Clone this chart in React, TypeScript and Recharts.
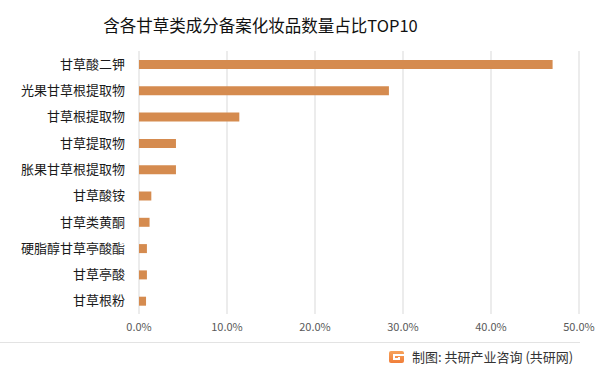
import React from "react";
import { BarChart, Bar, XAxis, YAxis, CartesianGrid } from "recharts";

const categories = [
  "甘草酸二钾",
  "光果甘草根提取物",
  "甘草根提取物",
  "甘草提取物",
  "胀果甘草根提取物",
  "甘草酸铵",
  "甘草类黄酮",
  "硬脂醇甘草亭酸酯",
  "甘草亭酸",
  "甘草根粉",
];
const shares = [0.47, 0.284, 0.114, 0.042, 0.042, 0.014, 0.012, 0.009, 0.009, 0.008];
const xTicks = [0, 0.1, 0.2, 0.3, 0.4, 0.5];
const title = "含各甘草类成分备案化妆品数量占比TOP10";
const source = "制图: 共研产业咨询 (共研网)";

const data = categories.map((name, i) => ({ name, value: shares[i] }));

const FONT = "'Noto Sans CJK SC', 'Noto Sans', sans-serif";

export default function App() {
  return (
    <div style={{ position: "absolute", left: 0, top: 0, width: 601, height: 373, background: "#fff", fontFamily: FONT }}>
      <div
        style={{
          position: "absolute",
          left: 0,
          width: 521,
          top: 13,
          textAlign: "center",
          fontSize: 16.5,
          color: "#111",
          lineHeight: "24px",
          whiteSpace: "nowrap",
        }}
      >
        {title}
      </div>
      <BarChart
        width={601}
        height={373}
        data={data}
        layout="vertical"
        margin={{ top: 51, right: 22, bottom: 29, left: 0 }}
        barCategoryGap={0}
      >
        <CartesianGrid horizontal={false} vertical={true} stroke="#d9d9d9" strokeWidth={1} />
        <XAxis
          type="number"
          domain={[0, 0.5]}
          ticks={xTicks}
          tickFormatter={(v: number) => (v * 100).toFixed(1) + "%"}
          axisLine={false}
          tickLine={false}
          tick={{ fontSize: 11, fill: "#595959", fontFamily: FONT }}
          tickMargin={3}
          height={30}
          interval={0}
        />
        <YAxis
          type="category"
          dataKey="name"
          width={139}
          axisLine={false}
          tickLine={false}
          tickMargin={8}
          tick={{ fontSize: 13, fill: "#1a1a1a", fontFamily: FONT }}
          interval={0}
        />
        <Bar dataKey="value" fill="#D58B4F" barSize={9} isAnimationActive={false} />
      </BarChart>
      <div style={{ position: "absolute", left: 0, top: 342, width: 580, height: 1, background: "#e3e3e3" }} />
      <svg style={{ position: "absolute", left: 389, top: 351 }} width={15} height={12}>
        <defs>
          <linearGradient id="lg" x1="0" y1="0" x2="0" y2="1">
            <stop offset="0" stopColor="#F6A25A" />
            <stop offset="1" stopColor="#F07E3A" />
          </linearGradient>
        </defs>
        <rect x={0} y={0} width={15} height={12} rx={2} fill="url(#lg)" />
        <rect x={4} y={3} width={11} height={2} fill="#fff" />
        <rect x={4} y={3} width={2} height={6} fill="#fff" />
        <rect x={4} y={7} width={7} height={2} fill="#fff" />
        <rect x={9} y={6} width={2} height={3} fill="#fff" />
      </svg>
      <div
        style={{
          position: "absolute",
          left: 412,
          top: 348,
          fontSize: 13,
          color: "#333",
          lineHeight: "18px",
          whiteSpace: "nowrap",
        }}
      >
        {source}
      </div>
    </div>
  );
}
